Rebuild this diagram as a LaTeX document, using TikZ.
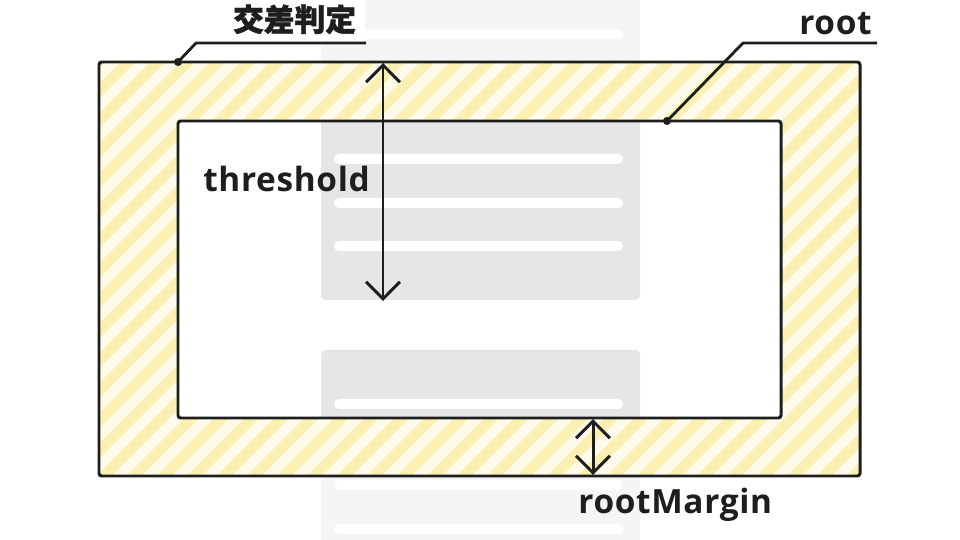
\documentclass[tikz,border=0pt]{standalone}
\usepackage{fontspec}
\setmainfont{Open Sans}[LetterSpace=2]
\newfontfamily\cjk{Noto Sans CJK JP}[FakeBold=1.4]
\usetikzlibrary{arrows.meta}
\definecolor{ink}{HTML}{1E1E1E}
\definecolor{pagegray}{HTML}{F5F5F5}
\definecolor{cardgray}{HTML}{E6E6E6}
\definecolor{stripeyellow}{HTML}{FBF0B2}
\definecolor{stripelight}{HTML}{FEFBEA}

\begin{document}
\begin{tikzpicture}[x=0.02cm, y=-0.02cm,
    frame/.style={draw=ink, line width=1.7pt, rounded corners=1.5pt},
    bar/.style={fill=white, rounded corners=2.8pt},
    card/.style={fill=cardgray, rounded corners=2.5pt},
    barb/.tip={Straight Barb[length=9.7pt, width=19.3pt]},
    arrow/.style={draw=ink, line width=1.7pt, barb-barb},
    leader/.style={draw=ink, line width=1.6pt},
    dot/.style={circle, fill=ink, inner sep=0pt, minimum size=4.6pt},
    label/.style={font=\bfseries\fontsize{19}{22}\selectfont, text=ink, inner sep=0pt}]
    \useasboundingbox[fill=white] (0,0) rectangle (960,540);

    % page behind the viewport
    \fill[pagegray] (321,0) rectangle (640,540);
    \foreach \y in {34,485,529}
        \fill[bar] (334,\y-5) rectangle (623,\y+5);

    % margin band
    \begin{scope}
        \clip (99,62) rectangle (860,476);
        \fill[stripelight] (99,62) rectangle (860,476);
        \foreach \s in {90,120,...,1320}
            \draw[stripeyellow, line width=6pt] (\s-460,500) -- (\s,40);
    \end{scope}

    % root viewport
    \fill[white] (178,121) rectangle (781,418);
    \begin{scope}
        \clip (178,121) rectangle (781,418);
        \fill[card] (321,90) rectangle (640,300);
        \foreach \y in {159,203,246}
            \fill[bar] (334,\y-5) rectangle (623,\y+5);
        \fill[card] (321,350) rectangle (640,490);
        \fill[bar] (334,399) rectangle (623,409);
    \end{scope}

    \draw[frame] (99,62) rectangle (860,476);
    \draw[frame] (178,121) rectangle (781,418);

    \coordinate (thr_top) at (383,63);
    \coordinate (thr_bottom) at (383,301);
    \coordinate (margin_top) at (593,419);
    \coordinate (margin_bottom) at (593,475);
    \draw[arrow] (thr_top) -- (thr_bottom);
    \draw[arrow] (margin_top) -- (margin_bottom);

    \node[label, anchor=base west] (thr_label) at (203,192) {threshold};
    \node[label, anchor=base west] (margin_label) at (578,513) {rootMargin};

    \node[label, anchor=base west, fill=white, inner sep=5pt] (cross_label) at (224,31) {\cjk\fontsize{17.5}{20}\selectfont 交差判定};
    \node[dot] (cross_dot) at (178,62) {};
    \coordinate (cross_knee) at (196,43);
    \coordinate (cross_end) at (366,43);
    \draw[leader] (cross_dot.center) -- (cross_knee) -- (cross_end);

    \node[label, anchor=base east] (root_label) at (872,35) {root};
    \node[dot] (root_dot) at (667,121) {};
    \coordinate (root_knee) at (743,43);
    \coordinate (root_end) at (877,43);
    \draw[leader] (root_dot.center) -- (root_knee) -- (root_end);
\end{tikzpicture}
\end{document}
